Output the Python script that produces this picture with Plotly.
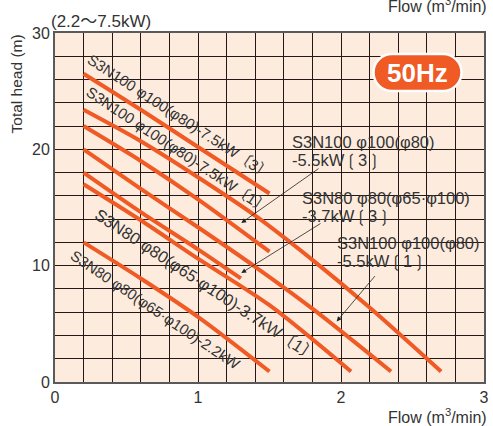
import plotly.graph_objects as go

# ---- data ----
flow_75_3 = [0.2, 0.6, 1.0, 1.5]
head_75_3 = [26.5, 23.4, 20.2, 16.2]

flow_75_1 = [0.2, 0.6, 1.0, 1.4, 1.8, 2.2, 2.7]
head_75_1 = [23.4, 20.7, 17.6, 14.3, 10.5, 6.4, 0.9]

flow_55_3 = [0.2, 0.6, 1.0, 1.5]
head_55_3 = [22.0, 19.0, 15.7, 11.2]

flow_55_1 = [0.2, 0.6, 1.0, 1.4, 1.8, 2.35]
head_55_1 = [20.0, 16.6, 13.3, 9.9, 6.3, 0.9]

flow_37_3 = [0.2, 0.6, 1.0, 1.3]
head_37_3 = [18.0, 14.6, 11.4, 8.9]

flow_37_1 = [0.2, 0.6, 1.0, 1.5, 2.07]
head_37_1 = [17.0, 13.9, 10.6, 6.6, 0.9]

flow_22 = [0.2, 0.6, 1.0, 1.5]
head_22 = [12.0, 8.9, 5.6, 0.9]

x_ticks = [0, 1, 2, 3]
y_ticks = [0, 10, 20, 30]

series = [
    ("S3N100 φ100(φ80)-7.5kW〔3〕", flow_75_3, head_75_3),
    ("S3N100 φ100(φ80)-7.5kW〔1〕", flow_75_1, head_75_1),
    ("S3N100 φ100(φ80)-5.5kW〔3〕", flow_55_3, head_55_3),
    ("S3N100 φ100(φ80)-5.5kW〔1〕", flow_55_1, head_55_1),
    ("S3N80 φ80(φ65·φ100)-3.7kW〔3〕", flow_37_3, head_37_3),
    ("S3N80 φ80(φ65·φ100)-3.7kW〔1〕", flow_37_1, head_37_1),
    ("S3N80 φ80(φ65·φ100)-2.2kW", flow_22, head_22),
]

LINE = "#F05A24"
TXT = "#333333"
FONT = "Liberation Sans, Arial, DejaVu Sans, Noto Sans CJK JP, sans-serif"

fig = go.Figure()
for name, xs, ys in series:
    fig.add_trace(go.Scatter(x=xs, y=ys, mode="lines", name=name,
                             line=dict(color=LINE, width=4, shape="spline", smoothing=0.8),
                             hoverinfo="skip"))

axis_common = dict(showline=True, mirror=True, linecolor="#5a5a5a", linewidth=2,
                   showgrid=True, gridcolor="#231815", gridwidth=1, zeroline=False,
                   ticks="", tickfont=dict(size=16, color=TXT, family=FONT))

fig.update_xaxes(range=[0, 3], tickvals=x_ticks,
                 minor=dict(dtick=0.2, showgrid=True, gridcolor="#231815", gridwidth=1),
                 **axis_common)
fig.update_yaxes(range=[0, 30], tickvals=y_ticks,
                 minor=dict(dtick=2, showgrid=True, gridcolor="#231815", gridwidth=1),
                 **axis_common)

annos = []
# rotated curve labels
rot = [
    ("S3N100 φ100(φ80)-7.5kW〔3〕", 0.872, 22.85, 33, 15),
    ("S3N100 φ100(φ80)-7.5kW〔1〕", 0.857, 19.95, 33.5, 15),
    ("S3N80 φ80(φ65·φ100)-3.7kW〔1〕", 1.058, 8.33, 33.4, 16.5),
    ("S3N80 φ80(φ65·φ100)-2.2kW", 0.700, 6.2, 34, 15),
]
for t, x, y, a, fs in rot:
    annos.append(dict(text=t, x=x, y=y, xref="x", yref="y", showarrow=False,
                      textangle=a, font=dict(size=fs, color=TXT, family=FONT)))

# callout labels (one annotation per text line)
callouts = [
    ("S3N100 φ100(φ80)", 1.64, 20.66),
    ("-5.5kW❲3❳", 1.64, 19.03),
    ("S3N80 φ80(φ65·φ100)", 1.71, 15.85),
    ("-3.7kW❲3❳", 1.71, 14.22),
    ("S3N100 φ100(φ80)", 1.955, 11.98),
    ("-5.5kW❲1❳", 1.955, 10.34),
]
for t, x, y in callouts:
    annos.append(dict(text=t, x=x, y=y, xref="x", yref="y", showarrow=False,
                      xanchor="left", yanchor="middle", align="left",
                      font=dict(size=16.5, color=TXT, family=FONT)))

arrows = [
    (1.303, 13.67, 1.853, 18.43),
    (1.303, 9.37, 1.867, 13.70),
    (1.970, 5.21, 2.246, 9.23),
]
for x, y, ax, ay in arrows:
    annos.append(dict(text="", x=x, y=y, ax=ax, ay=ay, xref="x", yref="y",
                      axref="x", ayref="y", showarrow=True, arrowhead=2,
                      arrowsize=1.2, arrowwidth=0.8, arrowcolor="#222222"))

# 50Hz badge text
annos.append(dict(text="<b>50Hz</b>", x=2.535, y=26.6, xref="x", yref="y", showarrow=False,
                  font=dict(size=26, color="white", family=FONT)))

# titles
annos.append(dict(text="(2.2～7.5kW)", x=-6 / 434, y=(382 - 21) / 349,
                  xref="paper", yref="paper", showarrow=False,
                  xanchor="left", yanchor="middle",
                  font=dict(size=17, color=TXT, family=FONT)))
annos.append(dict(text="Total head (m)", x=-39 / 434, y=(382 - 84) / 349,
                  xref="paper", yref="paper", showarrow=False, textangle=-90,
                  xanchor="center", yanchor="middle",
                  font=dict(size=15.5, color=TXT, family=FONT)))
annos.append(dict(text="Flow (m<sup>3</sup>/min)", x=1.012, y=(382 - 416) / 349,
                  xref="paper", yref="paper", showarrow=False,
                  xanchor="right", yanchor="middle",
                  font=dict(size=16, color=TXT, family=FONT)))
annos.append(dict(text="Flow (m<sup>3</sup>/min)", x=1.012, y=(382 - 5) / 349,
                  xref="paper", yref="paper", showarrow=False,
                  xanchor="right", yanchor="middle",
                  font=dict(size=16, color=TXT, family=FONT)))

# rounded pill for 50Hz
w2, h2 = 44, 18.5
r = h2
s = w2 - r
k = 0.5523
path = (f"M {-s},{h2} L {s},{h2} "
        f"C {s + k*r},{h2} {s + r},{k*r} {s + r},0 "
        f"C {s + r},{-k*r} {s + k*r},{-h2} {s},{-h2} "
        f"L {-s},{-h2} "
        f"C {-s - k*r},{-h2} {-s - r},{-k*r} {-s - r},0 "
        f"C {-s - r},{k*r} {-s - k*r},{h2} {-s},{h2} Z")
shapes = [dict(type="path", xref="x", yref="y", xsizemode="pixel", ysizemode="pixel",
               xanchor=2.535, yanchor=26.6, path=path, fillcolor="#F05A24",
               line=dict(color="white", width=2.5), layer="above")]

fig.update_layout(
    width=493, height=426,
    margin=dict(l=55, r=4, t=33, b=44),
    paper_bgcolor="white", plot_bgcolor="#FDEBDD",
    showlegend=False, annotations=annos, shapes=shapes,
    font=dict(family=FONT, color=TXT),
)
fig.write_html("out.html", config={"displayModeBar": False},
               post_script="document.body.style.margin='0';document.body.style.overflow='hidden';")
